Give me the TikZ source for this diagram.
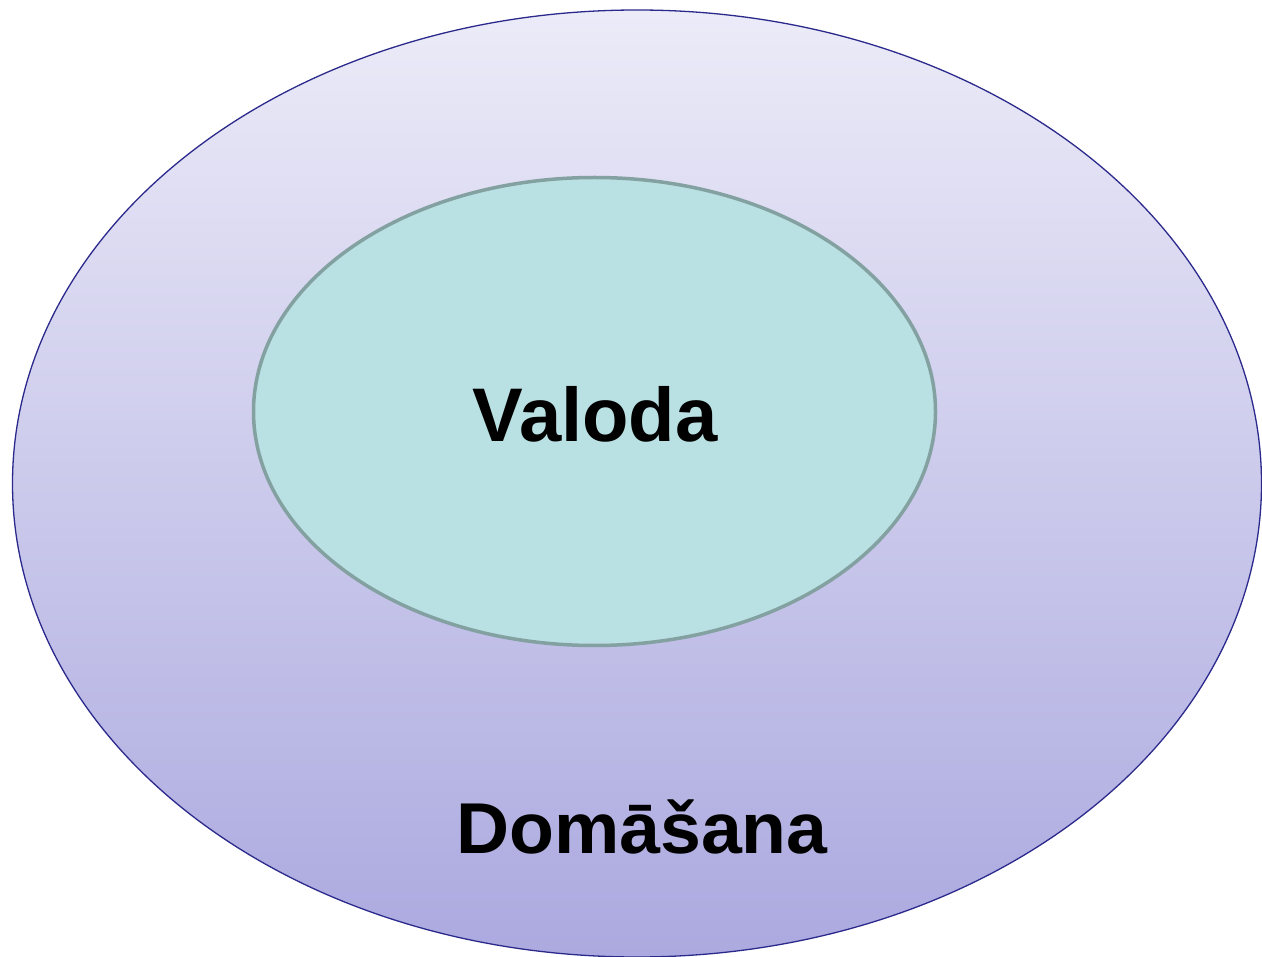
\documentclass[tikz,border=0pt]{standalone}
\usepackage{fontspec}
\setmainfont{Liberation Sans}
\definecolor{outtop}{HTML}{ECEBF8}
\definecolor{outbot}{HTML}{ABA9DF}
\definecolor{outline}{HTML}{2B2A8C}
\definecolor{infill}{HTML}{B9E0E2}
\definecolor{inline}{HTML}{84A1A2}
\tikzset{
  innerell/.style={draw=inline, line width=3.5pt, fill=infill},
  lbl/.style={font=\bfseries, text=black, inner sep=0pt}
}
\begin{document}
\begin{tikzpicture}[x=1pt,y=1pt]
\useasboundingbox (0,0) rectangle (1262,-957);
\shade[draw=outline, line width=1.3pt, top color=outtop, bottom color=outbot] (637,-483.5) ellipse [x radius=624.5, y radius=473.5];
\coordinate (oc) at (637,-483.5);
\draw[innerell] (594.5,-411.5) ellipse [x radius=341, y radius=234];
\coordinate (ic) at (594.5,-411.5);
\node[lbl, anchor=base] (val) at (595,-442) {\fontsize{76}{90}\selectfont Valoda};
\node[lbl, anchor=base, xscale=1.02] (dom) at (642,-853) {\fontsize{72}{86}\selectfont Domāšana};
\end{tikzpicture}
\end{document}
